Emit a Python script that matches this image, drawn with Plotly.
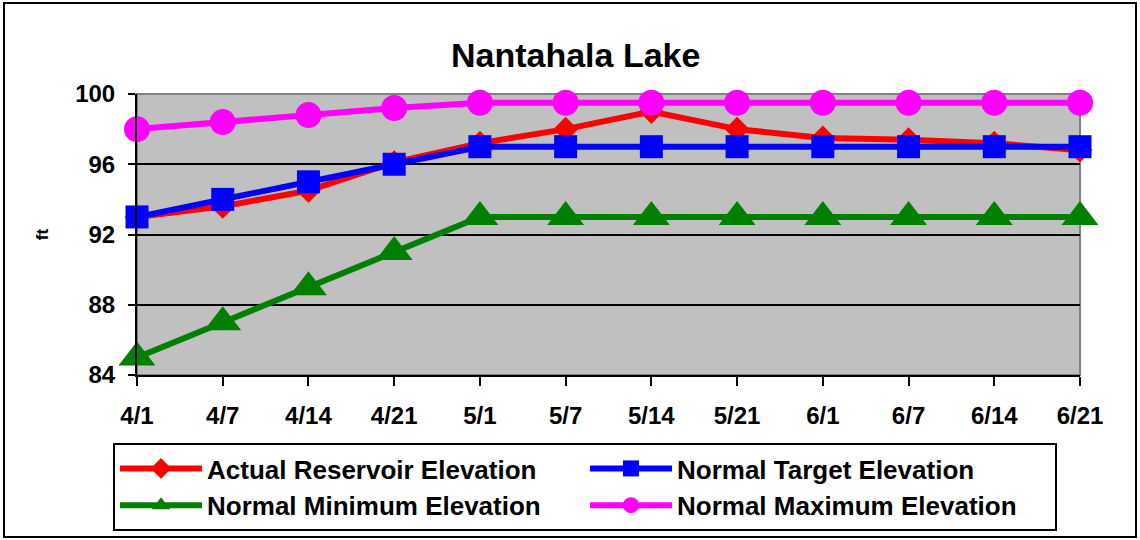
import plotly.graph_objects as go

dates = ["4/1", "4/7", "4/14", "4/21", "5/1", "5/7", "5/14", "5/21", "6/1", "6/7", "6/14", "6/21"]
actual = [93.0, 93.6, 94.5, 96.1, 97.2, 98.0, 99.0, 98.0, 97.5, 97.4, 97.2, 96.8]
target = [93.0, 94.0, 95.0, 96.0, 97.0, 97.0, 97.0, 97.0, 97.0, 97.0, 97.0, 97.0]
minimum = [85.0, 87.0, 89.0, 91.0, 93.0, 93.0, 93.0, 93.0, 93.0, 93.0, 93.0, 93.0]
maximum = [98.0, 98.4, 98.8, 99.2, 99.5, 99.5, 99.5, 99.5, 99.5, 99.5, 99.5, 99.5]
y_ticks = [84, 88, 92, 96, 100]

FONT = "Arial, 'Liberation Sans', sans-serif"

fig = go.Figure()
fig.add_trace(go.Scatter(x=dates, y=actual, name="Actual Reservoir Elevation", mode="lines+markers",
                         line=dict(color="#FF0000", width=6),
                         marker=dict(symbol="diamond", size=19, color="#FF0000"),
                         cliponaxis=False, legendrank=1))
fig.add_trace(go.Scatter(x=dates, y=minimum, name="Normal Minimum Elevation", mode="lines+markers",
                         line=dict(color="#008000", width=6),
                         marker=dict(symbol="triangle-up", size=32, color="#008000"),
                         cliponaxis=False, legendrank=3))
fig.add_trace(go.Scatter(x=dates, y=target, name="Normal Target Elevation", mode="lines+markers",
                         line=dict(color="#0000FF", width=6),
                         marker=dict(symbol="square", size=23, color="#0000FF"),
                         cliponaxis=False, legendrank=2))
fig.add_trace(go.Scatter(x=dates, y=maximum, name="Normal Maximum Elevation", mode="lines+markers",
                         line=dict(color="#FF00FF", width=6),
                         marker=dict(symbol="circle", size=26, color="#FF00FF"),
                         cliponaxis=False, legendrank=4))

L, R, T, B = 137, 1080, 94, 375
W, H = 1140, 540
pw, ph = R - L, B - T

def px_x(p):
    return (p - L) / pw

def px_y(p):
    return (B - p) / ph

shapes = [
    # outer chart border
    dict(type="rect", xref="paper", yref="paper", x0=px_x(4), x1=px_x(1136), y0=px_y(537), y1=px_y(3),
         line=dict(color="black", width=2), fillcolor="rgba(0,0,0,0)", layer="below"),
    # plot area gray border (top/right)
    dict(type="rect", xref="paper", yref="paper", x0=0, x1=1, y0=0, y1=1,
         line=dict(color="#808080", width=2), fillcolor="rgba(0,0,0,0)", layer="between"),
]

fig.update_layout(
    width=W, height=H,
    margin=dict(l=L, r=W - R, t=T, b=H - B, autoexpand=False),
    paper_bgcolor="white",
    plot_bgcolor="#C0C0C0",
    font=dict(family=FONT, color="black"),
    title=dict(text="Nantahala Lake", x=0.505, xref="container", xanchor="center",
               y=1 - 55 / H, yref="container", yanchor="middle",
               font=dict(size=34, family=FONT, weight="bold", color="black")),
    showlegend=True,
    legend=dict(orientation="h", xref="container", yref="container",
                x=113 / W, xanchor="left", y=1 - 443 / H, yanchor="top",
                itemwidth=82,
                entrywidth=373, entrywidthmode="pixels",
                bordercolor="black", borderwidth=2, bgcolor="white",
                font=dict(size=26, family=FONT, weight="bold", color="black"),
                traceorder="normal"),
    shapes=shapes,
)

fig.update_xaxes(type="category", range=[0, len(dates) - 1],
                 showline=True, linecolor="black", linewidth=2,
                 ticks="outside", ticklen=9, tickwidth=2, tickcolor="black",
                 ticklabelstandoff=9,
                 tickfont=dict(size=24, family=FONT, weight="bold", color="black"),
                 showgrid=False, zeroline=False, fixedrange=True)
fig.update_yaxes(range=[84, 100], tickvals=y_ticks, ticktext=[str(v) for v in y_ticks],
                 showline=True, linecolor="black", linewidth=2,
                 ticks="outside", ticklen=7, tickwidth=2, tickcolor="black",
                 ticklabelstandoff=8,
                 tickfont=dict(size=24, family=FONT, weight="bold", color="black"),
                 showgrid=True, gridcolor="black", gridwidth=2, zeroline=False,
                 title=dict(text="ft", standoff=22,
                            font=dict(size=17, family=FONT, weight="bold", color="black")),
                 fixedrange=True)

fig.write_html("out.html", config={"displayModeBar": False},
               post_script="document.body.style.margin='0';document.body.style.padding='0';")
